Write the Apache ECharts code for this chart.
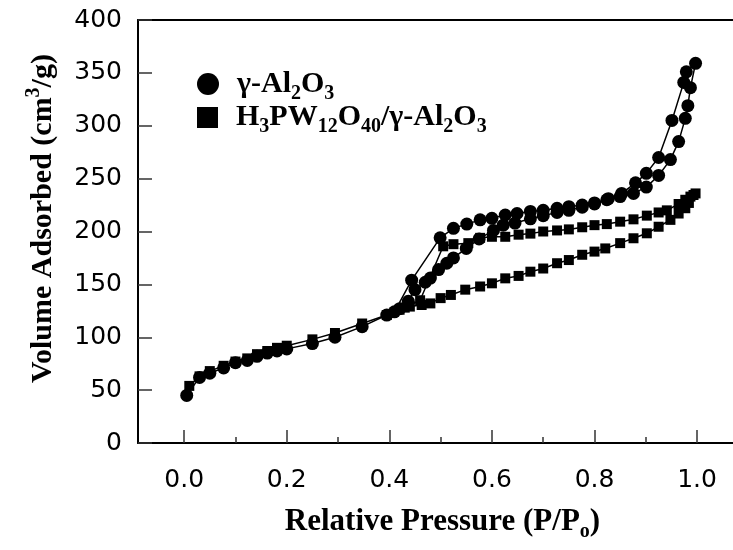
<!DOCTYPE html>
<html><head><meta charset="utf-8">
<script src="https://cdn.jsdelivr.net/npm/echarts@6/dist/echarts.min.js"></script>
<style>html,body{margin:0;padding:0;background:#fff}#c{width:733px;height:550px}</style>
</head><body><div id="c"></div><script>
// ---- data ----
const seriesNames = ['γ-Al2O3', 'H3PW12O40/γ-Al2O3'];
// γ-Al2O3 adsorption branch
const alAdsX = [0.005,0.03,0.05,0.077,0.10,0.123,0.142,0.162,0.181,0.20,0.25,0.294,0.347,0.395,0.42,0.437,0.45,0.47,0.48,0.496,0.512,0.525,0.55,0.575,0.603,0.622,0.645,0.675,0.70,0.727,0.75,0.776,0.80,0.824,0.85,0.876,0.901,0.925,0.948,0.964,0.977,0.982,0.987,0.997];
const alAdsY = [45,62,66,71,76,78,82,85,87,89,94,100,110,121,127,134,145,152,156,164,170,175,184,193,201,206,208,212,215,218,220,223,226,230,233,236,242,253,268,285,307,319,336,359];
// γ-Al2O3 desorption branch
const alDesX = [0.979,0.974,0.951,0.925,0.901,0.88,0.853,0.827,0.80,0.776,0.75,0.727,0.70,0.675,0.649,0.626,0.60,0.577,0.551,0.525,0.499,0.4435,0.41];
const alDesY = [351,341,305,270,255,246,236,231,227,225,223.5,222,220,219,217,215.6,212.5,211,207,203,194,154,124];
// H3PW12O40/γ-Al2O3 adsorption branch
const hpaAdsX = [0.01,0.03,0.05,0.077,0.10,0.123,0.142,0.162,0.181,0.20,0.25,0.294,0.347,0.395,0.42,0.44,0.463,0.48,0.50,0.52,0.548,0.577,0.60,0.626,0.652,0.675,0.70,0.727,0.75,0.776,0.80,0.821,0.85,0.876,0.902,0.925,0.948,0.964,0.977,0.984,0.993,0.997];
const hpaAdsY = [54,63,68,73,77,80,84,87,90,92,98,104,113,121,126,129,130.5,132,137,140,145,148,151,155.7,158,162,165,170,173,178,181,184,189,193.6,198.3,204.5,211,217,222,227,234.5,236];
// H3PW12O40/γ-Al2O3 desorption branch
const hpaDesX = [0.987,0.977,0.964,0.941,0.925,0.902,0.876,0.85,0.824,0.80,0.776,0.75,0.727,0.70,0.675,0.652,0.626,0.60,0.577,0.554,0.525,0.505,0.46,0.43];
const hpaDesY = [233,230,226,220,218,215,211.5,209.3,207,206,204,202,201,200,198,197,195,195,194,189,188,186,135,128];
// axis ticks
const xMajorTicks = [0,0.2,0.4,0.6,0.8,1.0];
const xMinorTicks = [0.1,0.3,0.5,0.7,0.9];

// ---- build ----
function pairs(xs, ys){ return xs.map((x,i)=>[x, ys[i]]); }
const alData = pairs(alAdsX, alAdsY).concat(pairs(alDesX, alDesY));
const hpaData = pairs(hpaAdsX, hpaAdsY).concat(pairs(hpaDesX, hpaDesY));

const serif = 'Liberation Serif';
const sans = 'DejaVu Sans';
const subStyle = {fontFamily: serif, fontWeight:'bold', fontSize:20, lineHeight:20, padding:[19,0,0,0], color:'#000'};
const supStyle = {fontFamily: serif, fontWeight:'bold', fontSize:20, lineHeight:20, padding:[0,0,20,0], color:'#000'};
const gapStyle = {width:13, fontSize:10, lineHeight:10};
const legendText = {
  'γ-Al2O3': '{g| }γ-Al{sub|2}O{sub|3}',
  'H3PW12O40/γ-Al2O3': '{g| }H{sub|3}PW{sub|12}O{sub|40}/γ-Al{sub|2}O{sub|3}'
};
function tStyle(size){
  return {fontFamily: serif, fontWeight:'bold', fontSize:size, lineHeight:40, color:'#000', rich:{sub:subStyle, sup:supStyle, g:gapStyle}};
}

function legendCfg(name, icon, top, size){
  return {
    data:[name], left:197, top:top, orient:'vertical', icon:icon,
    itemWidth:size, itemHeight:size, padding:0,
    itemStyle:{color:'#000'},
    formatter: n => legendText[n],
    textStyle: tStyle(30)
  };
}

const xRange = {min:-0.09, max:1.07};
const chart = echarts.init(document.getElementById('c'));
chart.setOption({
  animation:false,
  backgroundColor:'#fff',
  grid:{left:138, right:0, top:20, bottom:107},
  legend:[legendCfg(seriesNames[0],'circle',64,22), legendCfg(seriesNames[1],'rect',97.5,21)],
  xAxis:[
    Object.assign({type:'value', position:'bottom',
      axisLine:{show:true, onZero:false, lineStyle:{color:'#000', width:2}},
      axisTick:{show:true, inside:true, length:13, customValues:xMajorTicks, lineStyle:{color:'#333', width:1.5}},
      axisLabel:{customValues:xMajorTicks, formatter:v=>v.toFixed(1), margin:25, fontSize:25, fontFamily:sans, color:'#000'},
      splitLine:{show:false},
      name:'Relative Pressure (P/P{sub|o})', nameLocation:'middle', nameGap:59,
      nameTextStyle:Object.assign(tStyle(31), {padding:[0,0,0,14]})
    }, xRange),
    Object.assign({type:'value', position:'bottom',
      axisLine:{show:false, onZero:false},
      axisTick:{show:true, inside:true, length:6, customValues:xMinorTicks, lineStyle:{color:'#333', width:1.5}},
      axisLabel:{show:false}, splitLine:{show:false}
    }, xRange),
    Object.assign({type:'value', position:'top',
      axisLine:{show:true, onZero:false, lineStyle:{color:'#000', width:2}},
      axisTick:{show:false}, axisLabel:{show:false}, splitLine:{show:false}
    }, xRange)
  ],
  yAxis:{type:'value', min:0, max:400, interval:50,
    axisLine:{show:true, onZero:false, lineStyle:{color:'#000', width:2}},
    axisTick:{show:true, inside:true, length:14, lineStyle:{color:'#333', width:1.5}},
    axisLabel:{margin:16, fontSize:25, fontFamily:sans, color:'#000'},
    splitLine:{show:false},
    name:'Volume Adsorbed (cm{sup|3}/g)', nameLocation:'middle', nameRotate:90, nameGap:74,
    nameTextStyle:Object.assign(tStyle(30), {padding:[0,0,0,26]})
  },
  series:[
    {name:seriesNames[0], type:'line', xAxisIndex:0, data:alData, symbol:'circle', symbolSize:13,
     itemStyle:{color:'#000'}, lineStyle:{color:'#000', width:1.5}},
    {name:seriesNames[1], type:'line', xAxisIndex:0, data:hpaData, symbol:'rect', symbolSize:10,
     itemStyle:{color:'#000'}, lineStyle:{color:'#000', width:1.5}}
  ]
});
</script></body></html>
